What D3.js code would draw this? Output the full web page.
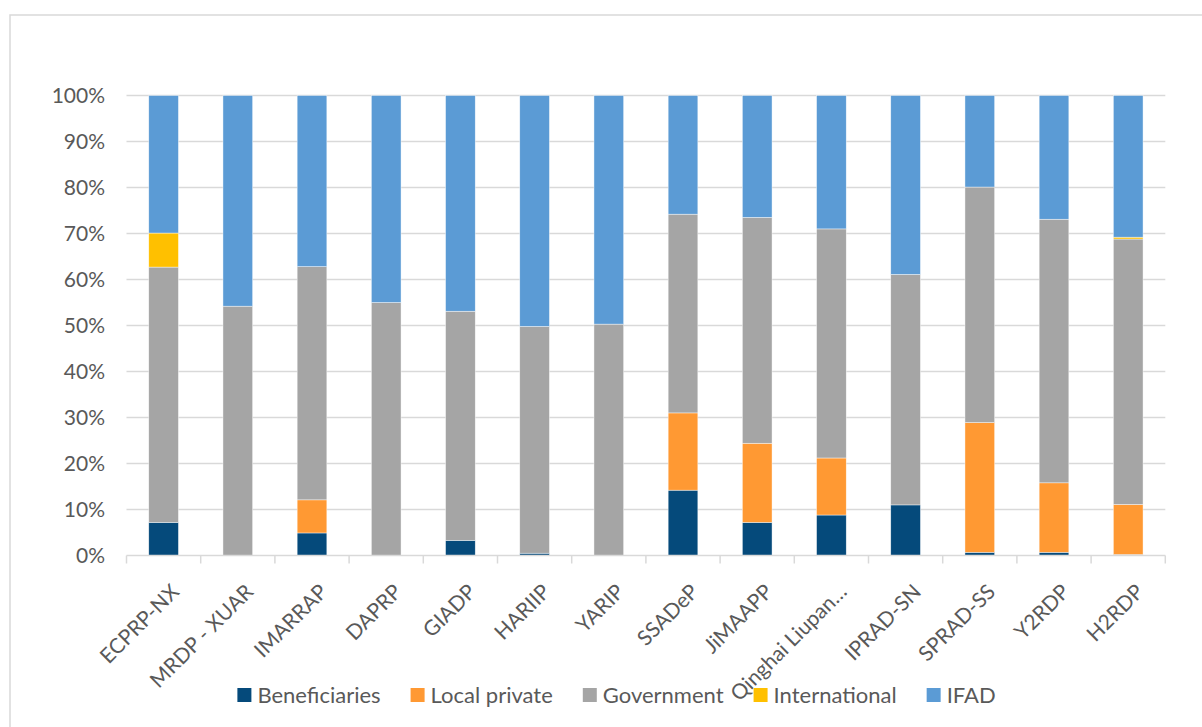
<!DOCTYPE html>
<html>
<head>
<meta charset="utf-8">
<script src="https://cdn.jsdelivr.net/npm/d3@7"></script>
<style>
  html, body { margin: 0; padding: 0; background: #fff; }
  svg { display: block; }
  text { font-family: Lato, "Open Sans", sans-serif; fill: #595959; }
</style>
</head>
<body>
<svg id="chart" width="1202" height="727"></svg>
<script>
const categories = ["ECPRP-NX", "MRDP - XUAR", "IMARRAP", "DAPRP", "GIADP", "HARIIP", "YARIP",
  "SSADeP", "JiMAAPP", "Qinghai Liupan…", "IPRAD-SN", "SPRAD-SS", "Y2RDP", "H2RDP"];
const seriesNames = ["Beneficiaries", "Local private", "Government", "International", "IFAD"];
const beneficiaries = [7.2, 0, 4.9, 0, 3.3, 0.5, 0, 14.2, 7.2, 8.8, 11.0, 0.7, 0.7, 0.2];
const localPrivate  = [0, 0, 7.2, 0, 0, 0, 0, 16.8, 17.2, 12.4, 0, 28.2, 15.1, 10.9];
const government    = [55.5, 54.2, 50.7, 55.0, 49.8, 49.3, 50.3, 43.2, 49.1, 49.8, 50.1, 51.2, 57.3, 57.7];
const international = [7.4, 0, 0, 0, 0, 0, 0, 0, 0, 0, 0, 0, 0, 0.4];
const ifad          = [29.9, 45.8, 37.2, 45.0, 46.9, 50.2, 49.7, 25.8, 26.5, 29.0, 38.9, 19.9, 26.9, 30.8];
const yTickLabels = ["0%", "10%", "20%", "30%", "40%", "50%", "60%", "70%", "80%", "90%", "100%"];
const colors = ["#054a7b", "#ff9933", "#a5a5a5", "#ffc000", "#5b9bd5"];

const seriesValues = [beneficiaries, localPrivate, government, international, ifad];
const rows = categories.map((c, i) => {
  const r = { cat: c };
  let total = 0;
  seriesNames.forEach((s, k) => { total += seriesValues[k][i]; });
  seriesNames.forEach((s, k) => { r[s] = seriesValues[k][i] / total; });
  return r;
});

const svg = d3.select("#chart");
const plotLeft = 126.5, plotRight = 1165.3, plotTop = 95.5, plotBottom = 555.5;

// chart border
svg.append("rect").attr("x", 10).attr("y", 15).attr("width", 1220).attr("height", 760)
  .attr("fill", "none").attr("stroke", "#d9d9d9").attr("stroke-width", 1.5);

const x = d3.scaleBand().domain(categories).range([plotLeft, plotRight]).paddingInner(0.6).paddingOuter(0.3);
const y = d3.scaleLinear().domain([0, 1]).range([plotBottom, plotTop]);

// gridlines
const yTicks = d3.range(0, 1.0001, 0.1);
svg.append("g").selectAll("line").data(yTicks.slice(1)).join("line")
  .attr("x1", plotLeft).attr("x2", plotRight)
  .attr("y1", d => y(d)).attr("y2", d => y(d))
  .attr("stroke", "#d9d9d9").attr("stroke-width", 1.3);

// y labels
svg.append("g").selectAll("text").data(yTicks).join("text")
  .attr("x", 105).attr("y", d => y(d)).attr("dy", "0.36em")
  .attr("text-anchor", "end").style("font-size", "21px")
  .text((d, i) => yTickLabels[i]);

// bars
const stack = d3.stack().keys(seriesNames);
const stacked = stack(rows);
svg.append("g").selectAll("g").data(stacked).join("g")
  .attr("fill", (d, i) => colors[i])
  .selectAll("rect").data(d => d).join("rect")
  .attr("x", d => x(d.data.cat))
  .attr("width", x.bandwidth())
  .attr("y", d => y(d[1]))
  .attr("height", d => Math.max(0, y(d[0]) - y(d[1])))
  .attr("stroke", "#ffffff").attr("stroke-width", 0.6).attr("stroke-opacity", 0.7);

// x axis line + ticks
svg.append("line").attr("x1", plotLeft).attr("x2", plotRight).attr("y1", plotBottom).attr("y2", plotBottom)
  .attr("stroke", "#d9d9d9").attr("stroke-width", 1.5);
const step = x.step();
const tickXs = categories.map(c => x(c) - step * 0.3).concat([plotRight]);
svg.append("g").selectAll("line").data(tickXs).join("line")
  .attr("x1", d => d).attr("x2", d => d).attr("y1", plotBottom).attr("y2", plotBottom + 8)
  .attr("stroke", "#d9d9d9").attr("stroke-width", 1.5);

// x labels
svg.append("g").selectAll("text").data(categories).join("text")
  .attr("transform", c => `translate(${x(c) + x.bandwidth() / 2 + 6},${plotBottom + 27}) rotate(-45)`)
  .attr("text-anchor", "end").attr("dy", "0.72em")
  .style("font-size", "21px")
  .text(c => c);

// legend
const legend = svg.append("g");
let cx = 0;
seriesNames.forEach((s, i) => {
  const g = legend.append("g");
  g.append("rect").attr("x", 0).attr("y", 688).attr("width", 14).attr("height", 14).attr("fill", colors[i]);
  const t = g.append("text").attr("x", 20).attr("y", 702.5).style("font-size", "22px").text(s);
  const w = t.node().getComputedTextLength();
  g.attr("transform", `translate(${cx},0)`);
  cx += 20 + w + 30;
});
const totalW = cx - 30;
legend.attr("transform", `translate(${616.5 - totalW / 2},0)`);
</script>
</body>
</html>
